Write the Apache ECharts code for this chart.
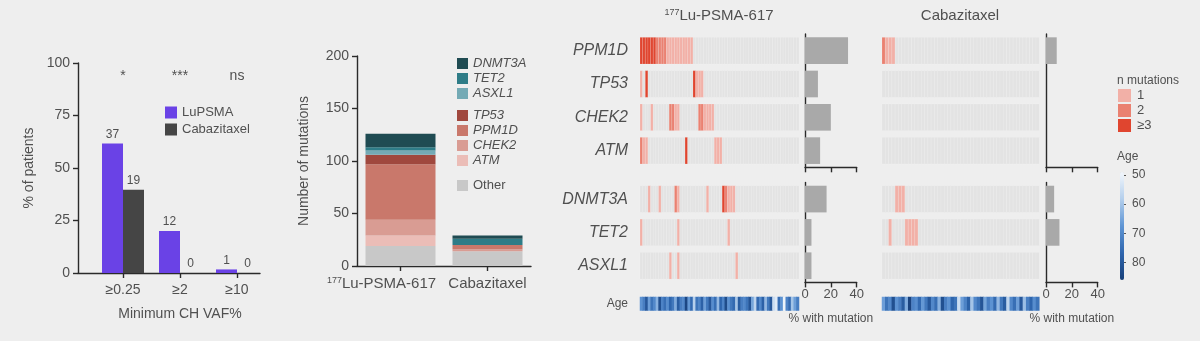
<!DOCTYPE html>
<html lang="en">
<head>
<meta charset="UTF-8">
<title>CH mutations by arm</title>
<style>
  html, body { margin: 0; background: #eeeeee; }
  #chart { width: 1200px; height: 341px; }
</style>
</head>
<body>
<div id="chart"></div>
<script src="https://cdn.jsdelivr.net/npm/echarts@6/dist/echarts.min.js"></script>
<script>
// panel A - % of patients with CH
const vafCats = ['≥0.25', '≥2', '≥10'];
const sigLabels = ['*', '***', 'ns'];
const luPct = [61.7, 20.0, 1.7];
const cabPct = [39.6, 0, 0];
const luN = [37, 12, 1];
const cabN = [19, 0, 0];

// panel B - number of mutations (stack order bottom -> top)
const armNames = ['Lu', 'Cabazitaxel'];
const stackGenes = ['Other', 'ATM', 'CHEK2', 'PPM1D', 'TP53', 'ASXL1', 'TET2', 'DNMT3A'];
const luStack = [19, 10, 15, 53, 9, 4, 3, 13];
const cabStack = [14, 0, 2, 4, 0, 0, 6, 3];

// panel C - oncoprint, [patient, n mutations]
const genesTop = ['PPM1D', 'TP53', 'CHEK2', 'ATM'];
const genesBottom = ['DNMT3A', 'TET2', 'ASXL1'];
const luPatients = 60;
const cabPatients = 48;

const luPPM1D = [[0,3],[1,3],[2,3],[3,3],[4,3],[5,3],[6,2],[7,2],[8,2],[9,2],[10,1],[11,1],[12,1],[13,1],[14,1],[15,1],[16,1],[17,1],[18,1],[19,1]];
const luTP53 = [[0,1],[2,3],[20,3],[21,1],[22,1],[23,1]];
const luCHEK2 = [[0,1],[4,1],[11,2],[12,2],[13,1],[14,1],[22,2],[23,2],[24,1],[25,1],[26,1],[27,1]];
const luATM = [[0,2],[1,1],[2,1],[17,3],[28,1],[29,1],[30,1]];
const luDNMT3A = [[3,1],[7,1],[13,2],[14,1],[25,1],[31,3],[32,2],[33,1],[34,1],[35,1]];
const luTET2 = [[0,1],[14,1],[33,1]];
const luASXL1 = [[11,1],[14,1],[36,1]];

const cabPPM1D = [[0,2],[1,1],[2,1],[3,1]];
const cabTP53 = [];
const cabCHEK2 = [];
const cabATM = [];
const cabDNMT3A = [[4,1],[5,1],[6,1]];
const cabTET2 = [[2,1],[7,1],[8,1],[9,1],[10,1]];
const cabASXL1 = [];

// % with mutation
const luPctTop = [33.3, 10.0, 20.0, 11.7];
const luPctBottom = [16.7, 5.0, 5.0];
const cabPctTop = [8.3, 0, 0, 0];
const cabPctBottom = [6.3, 10.4, 0];

// age per patient
const luAge = [68,72,80,66,74,70,63,82,71,75, 69,77,73,64,79,72,70,84,67,76,
               58,74,71,78,66,73,80,69,75,62, 77,71,83,68,73,76,60,79,72,70,
               74,81,65,57,76,70,78,62,73,80, 55,52,75,68,50,71,76,60,66,72];
const cabAge = [66,74,70,82,68,72,79,64,85,71, 69,76,67,73,80,70,75,63,82,72,
                68,77,74,55,66,71,78,60,70,74, 81,65,72,68,76,62,73,79,57,70,
                75,66,80,61,72,77,69,74];
const ageTicks = [50, 60, 70, 80];
const nMutLabels = ['1', '2', '≥3'];

// ---------------------------------------------------------------
const FONT = "'Liberation Sans', Arial, sans-serif";
const TXT = '#505050';
const AX = '#2a2a2a';
const stackColors = ['#c8c8c8', '#ebbdb7', '#d99c93', '#c9786b', '#a0483e', '#74aab5', '#2e7c87', '#1f4b52'];
const mutColors = ['#f2b0a7', '#ea8171', '#e0452f'];

function cells(n, rows) {
  const out = [];
  rows.forEach((list, r) => {
    const m = new Array(n).fill(0);
    list.forEach(([i, c]) => { m[i] = c; });
    m.forEach((c, i) => out.push([i, r, c]));
  });
  return out;
}
const idx = n => Array.from({ length: n }, (_, i) => String(i));

function cellRender(params, api) {
  const p = api.coord([api.value(0), api.value(1)]);
  const s = api.size([1, 1]);
  return {
    type: 'rect',
    shape: { x: p[0] - s[0] / 2, y: p[1] - s[1] * 0.4, width: s[0], height: s[1] * 0.8 },
    style: { fill: api.visual('color'), stroke: 'rgba(255,255,255,0.22)', lineWidth: 0.6 }
  };
}

const sup = { sup: { fontSize: 9, verticalAlign: 'top', fontFamily: FONT, color: TXT, padding: [0, 0, 6, 0] } };
// the Lu arm label sits a bit left of its tick in the original
const supShift = Object.assign({ lu: { fontSize: 15, fontFamily: FONT, color: TXT, padding: [0, 38, 0, 0] } }, sup);

// grids
const grid = [
  { left: 78, top: 63, width: 182, height: 210 },      // 0 A frame
  { left: 94.5, top: 63, width: 171, height: 210 },    // 1 A bars
  { left: 357, top: 56, width: 174, height: 210 },     // 2 B
  { left: 640, top: 34, width: 159, height: 133.3 },   // 3 Lu heat top
  { left: 640, top: 182.4, width: 159, height: 100 },  // 4 Lu heat bottom
  { left: 640, top: 297, width: 159, height: 13.5 },   // 5 Lu age
  { left: 805, top: 34, width: 51.7, height: 133.3 },  // 6 Lu bars top
  { left: 805, top: 182.4, width: 51.7, height: 100 }, // 7 Lu bars bottom
  { left: 882, top: 34, width: 157.3, height: 133.3 }, // 8 Cab heat top
  { left: 882, top: 182.4, width: 157.3, height: 100 },// 9 Cab heat bottom
  { left: 882, top: 297, width: 157.3, height: 13.5 }, // 10 Cab age
  { left: 1046, top: 34, width: 51.7, height: 133.3 }, // 11 Cab bars top
  { left: 1046, top: 182.4, width: 51.7, height: 100 },// 12 Cab bars bottom
  { left: 1120, top: 172, width: 4, height: 108 }      // 13 age colour scale
].map(g => Object.assign({ containLabel: false, outerBoundsMode: 'none' }, g));

const axLine = { show: true, lineStyle: { color: AX, width: 1.4 } };
const axTick = { show: true, length: 5, lineStyle: { color: AX, width: 1.4 } };
const lbl = (size, extra) => Object.assign({ color: TXT, fontSize: size, fontFamily: FONT }, extra || {});
const hiddenCat = (gi, n) => ({ type: 'category', gridIndex: gi, data: idx(n), show: false });
const pctAxis = (gi, showLabels) => ({
  type: 'value', gridIndex: gi, min: 0, max: 40, interval: 20,
  axisLine: axLine, axisTick: axTick, splitLine: { show: false },
  axisLabel: showLabels ? lbl(13, { margin: 6 }) : { show: false },
  name: showLabels ? '% with mutation' : '', nameLocation: 'middle', nameGap: 30,
  nameTextStyle: lbl(12)
});
const geneAxis = (gi, genes, labelled) => ({
  type: 'category', gridIndex: gi, data: genes, inverse: true,
  axisLine: { show: false }, axisTick: { show: false },
  axisLabel: labelled ? lbl(16, { fontStyle: 'italic', margin: 12 }) : { show: false }
});
const barGeneAxis = (gi, genes) => ({
  type: 'category', gridIndex: gi, data: genes, inverse: true,
  axisLine: axLine, axisTick: { show: false }, axisLabel: { show: false }
});

const xAxis = [
  { type: 'value', gridIndex: 0, min: 0, max: 1, axisLine: axLine, axisTick: { show: false }, axisLabel: { show: false }, splitLine: { show: false } },
  { type: 'category', gridIndex: 1, data: vafCats, axisLine: { show: false }, axisTick: Object.assign({ alignWithLabel: true }, axTick),
    axisLabel: lbl(14, { margin: 10, interval: 0 }), name: 'Minimum CH VAF%', nameLocation: 'middle', nameGap: 34, nameTextStyle: lbl(14) },
  { type: 'category', gridIndex: 1, position: 'top', data: sigLabels, axisLine: { show: false }, axisTick: { show: false },
    axisLabel: lbl(14, { inside: true, margin: 6, interval: 0 }) },
  { type: 'category', gridIndex: 2, data: armNames, axisLine: axLine, axisTick: Object.assign({ alignWithLabel: true }, axTick),
    axisLabel: lbl(15, { margin: 10, interval: 0, hideOverlap: false,
      formatter: v => v === 'Lu' ? '{sup|177}{lu|Lu-PSMA-617}' : v, rich: supShift }) },
  hiddenCat(3, luPatients),
  hiddenCat(4, luPatients),
  hiddenCat(5, luPatients),
  pctAxis(6, false),
  pctAxis(7, true),
  hiddenCat(8, cabPatients),
  hiddenCat(9, cabPatients),
  hiddenCat(10, cabPatients),
  pctAxis(11, false),
  pctAxis(12, true),
  { type: 'value', gridIndex: 13, show: false }
];

const yAxis = [
  { type: 'value', gridIndex: 0, min: 0, max: 100, interval: 25, axisLine: axLine, axisTick: axTick, splitLine: { show: false },
    axisLabel: lbl(14, { margin: 8 }), name: '% of patients', nameLocation: 'middle', nameGap: 42, nameTextStyle: lbl(14) },
  { type: 'value', gridIndex: 1, min: 0, max: 100, show: false },
  { type: 'value', gridIndex: 2, min: 0, max: 200, interval: 50, axisLine: axLine, axisTick: axTick, splitLine: { show: false },
    axisLabel: lbl(14, { margin: 8 }), name: 'Number of mutations', nameLocation: 'middle', nameGap: 46, nameTextStyle: lbl(14) },
  geneAxis(3, genesTop, true),
  geneAxis(4, genesBottom, true),
  { type: 'category', gridIndex: 5, data: ['Age'], axisLine: { show: false }, axisTick: { show: false }, axisLabel: lbl(12, { margin: 12 }) },
  barGeneAxis(6, genesTop),
  barGeneAxis(7, genesBottom),
  geneAxis(8, genesTop, false),
  geneAxis(9, genesBottom, false),
  { type: 'category', gridIndex: 10, data: ['Age'], show: false },
  barGeneAxis(11, genesTop),
  barGeneAxis(12, genesBottom),
  { type: 'value', gridIndex: 13, min: 49, max: 86, inverse: true, position: 'right',
    axisLine: { show: false }, splitLine: { show: false },
    axisTick: { show: true, length: 6, inside: false, customValues: ageTicks, lineStyle: { color: '#555', width: 1 } },
    axisLabel: lbl(12, { margin: 8, customValues: ageTicks }) }
];

const series = [];
// A
series.push({ name: 'LuPSMA', type: 'bar', xAxisIndex: 1, yAxisIndex: 1, data: luPct, barWidth: 21, barGap: '0%',
  itemStyle: { color: '#6a42e6' }, label: { show: true, position: 'top', distance: 3, ...lbl(12), formatter: p => luN[p.dataIndex] } });
series.push({ name: 'Cabazitaxel', type: 'bar', xAxisIndex: 1, yAxisIndex: 1, data: cabPct, barWidth: 21, barGap: '0%',
  itemStyle: { color: '#454545' }, label: { show: true, position: 'top', distance: 3, ...lbl(12), formatter: p => cabN[p.dataIndex] } });
// B
stackGenes.forEach((g, i) => {
  series.push({ name: g, type: 'bar', stack: 'mut', xAxisIndex: 3, yAxisIndex: 2, barWidth: 70,
    data: [luStack[i], cabStack[i]], itemStyle: { color: stackColors[i] } });
});
// C mutation cells
const mutSeries = [];
function addCells(xi, yi, n, rows) {
  mutSeries.push(series.length);
  series.push({ type: 'custom', xAxisIndex: xi, yAxisIndex: yi, renderItem: cellRender,
    dimensions: ['patient', 'gene', 'n'], encode: { x: 0, y: 1 }, data: cells(n, rows), silent: true });
}
addCells(4, 3, luPatients, [luPPM1D, luTP53, luCHEK2, luATM]);
addCells(5, 4, luPatients, [luDNMT3A, luTET2, luASXL1]);
addCells(9, 8, cabPatients, [cabPPM1D, cabTP53, cabCHEK2, cabATM]);
addCells(10, 9, cabPatients, [cabDNMT3A, cabTET2, cabASXL1]);
// C age strips
const ageSeries = [];
function addAge(xi, yi, ages) {
  ageSeries.push(series.length);
  series.push({ type: 'heatmap', xAxisIndex: xi, yAxisIndex: yi, data: ages.map((a, i) => [i, 0, a]), silent: true });
}
addAge(6, 5, luAge);
addAge(11, 10, cabAge);
// C % with mutation bars
function addPct(xi, yi, vals) {
  series.push({ type: 'bar', xAxisIndex: xi, yAxisIndex: yi, data: vals, barWidth: '80%', itemStyle: { color: '#a9a9a9' }, silent: true });
}
addPct(7, 6, luPctTop);
addPct(8, 7, luPctBottom);
addPct(12, 11, cabPctTop);
addPct(13, 12, cabPctBottom);

const legendText = (italic) => lbl(13, { fontStyle: italic ? 'italic' : 'normal' });
const option = {
  backgroundColor: '#eeeeee',
  animation: false,
  textStyle: { fontFamily: FONT },
  title: [
    { text: '{sup|177}Lu-PSMA-617', left: 714, top: 3, textAlign: 'center', textStyle: lbl(15, { fontWeight: 'normal', rich: sup }) },
    { text: 'Cabazitaxel', left: 955, top: 3, textAlign: 'center', textStyle: lbl(15, { fontWeight: 'normal' }) },
    { text: 'n mutations', left: 1112, top: 70, textStyle: lbl(12, { fontWeight: 'normal' }) },
    { text: 'Age', left: 1112, top: 146, textStyle: lbl(12, { fontWeight: 'normal' }) }
  ],
  grid, xAxis, yAxis, series,
  legend: [
    { data: ['LuPSMA', 'Cabazitaxel'], orient: 'vertical', left: 160, top: 101, itemWidth: 12, itemHeight: 12, itemGap: 4,
      icon: 'rect', textStyle: legendText(false), selectedMode: false },
    { data: ['DNMT3A', 'TET2', 'ASXL1'], orient: 'vertical', left: 452, top: 52, itemWidth: 11, itemHeight: 11, itemGap: 2,
      icon: 'rect', textStyle: legendText(true), selectedMode: false },
    { data: ['TP53', 'PPM1D', 'CHEK2', 'ATM'], orient: 'vertical', left: 452, top: 104, itemWidth: 11, itemHeight: 11, itemGap: 2,
      icon: 'rect', textStyle: legendText(true), selectedMode: false },
    { data: ['Other'], orient: 'vertical', left: 452, top: 174, itemWidth: 11, itemHeight: 11,
      icon: 'rect', textStyle: legendText(false), selectedMode: false }
  ],
  visualMap: [
    { type: 'piecewise', seriesIndex: mutSeries, dimension: 2, orient: 'vertical', inverse: true, align: 'left',
      pieces: [
        { value: 1, label: nMutLabels[0], color: mutColors[0] },
        { value: 2, label: nMutLabels[1], color: mutColors[1] },
        { gte: 3, label: nMutLabels[2], color: mutColors[2] }
      ],
      outOfRange: { color: '#e3e3e3' },
      left: 1118, top: 89, itemWidth: 13, itemHeight: 13, itemGap: 2, itemSymbol: 'rect', selectedMode: false,
      textGap: 6, textStyle: lbl(13), padding: 0 },
    { type: 'continuous', seriesIndex: ageSeries, dimension: 2, min: 49, max: 86, inverse: true, calculable: false,
      inRange: { color: ['#f3f7fc', '#b4cfec', '#5f95d4', '#2f66ae', '#173f79'] },
      left: 1120, top: 172, itemWidth: 4, itemHeight: 108, padding: 0, text: null, hoverLink: false, z: 1 }
  ]
};

const chart = echarts.init(document.getElementById('chart'), null, { renderer: 'canvas' });
chart.setOption(option);
</script>
</body>
</html>
